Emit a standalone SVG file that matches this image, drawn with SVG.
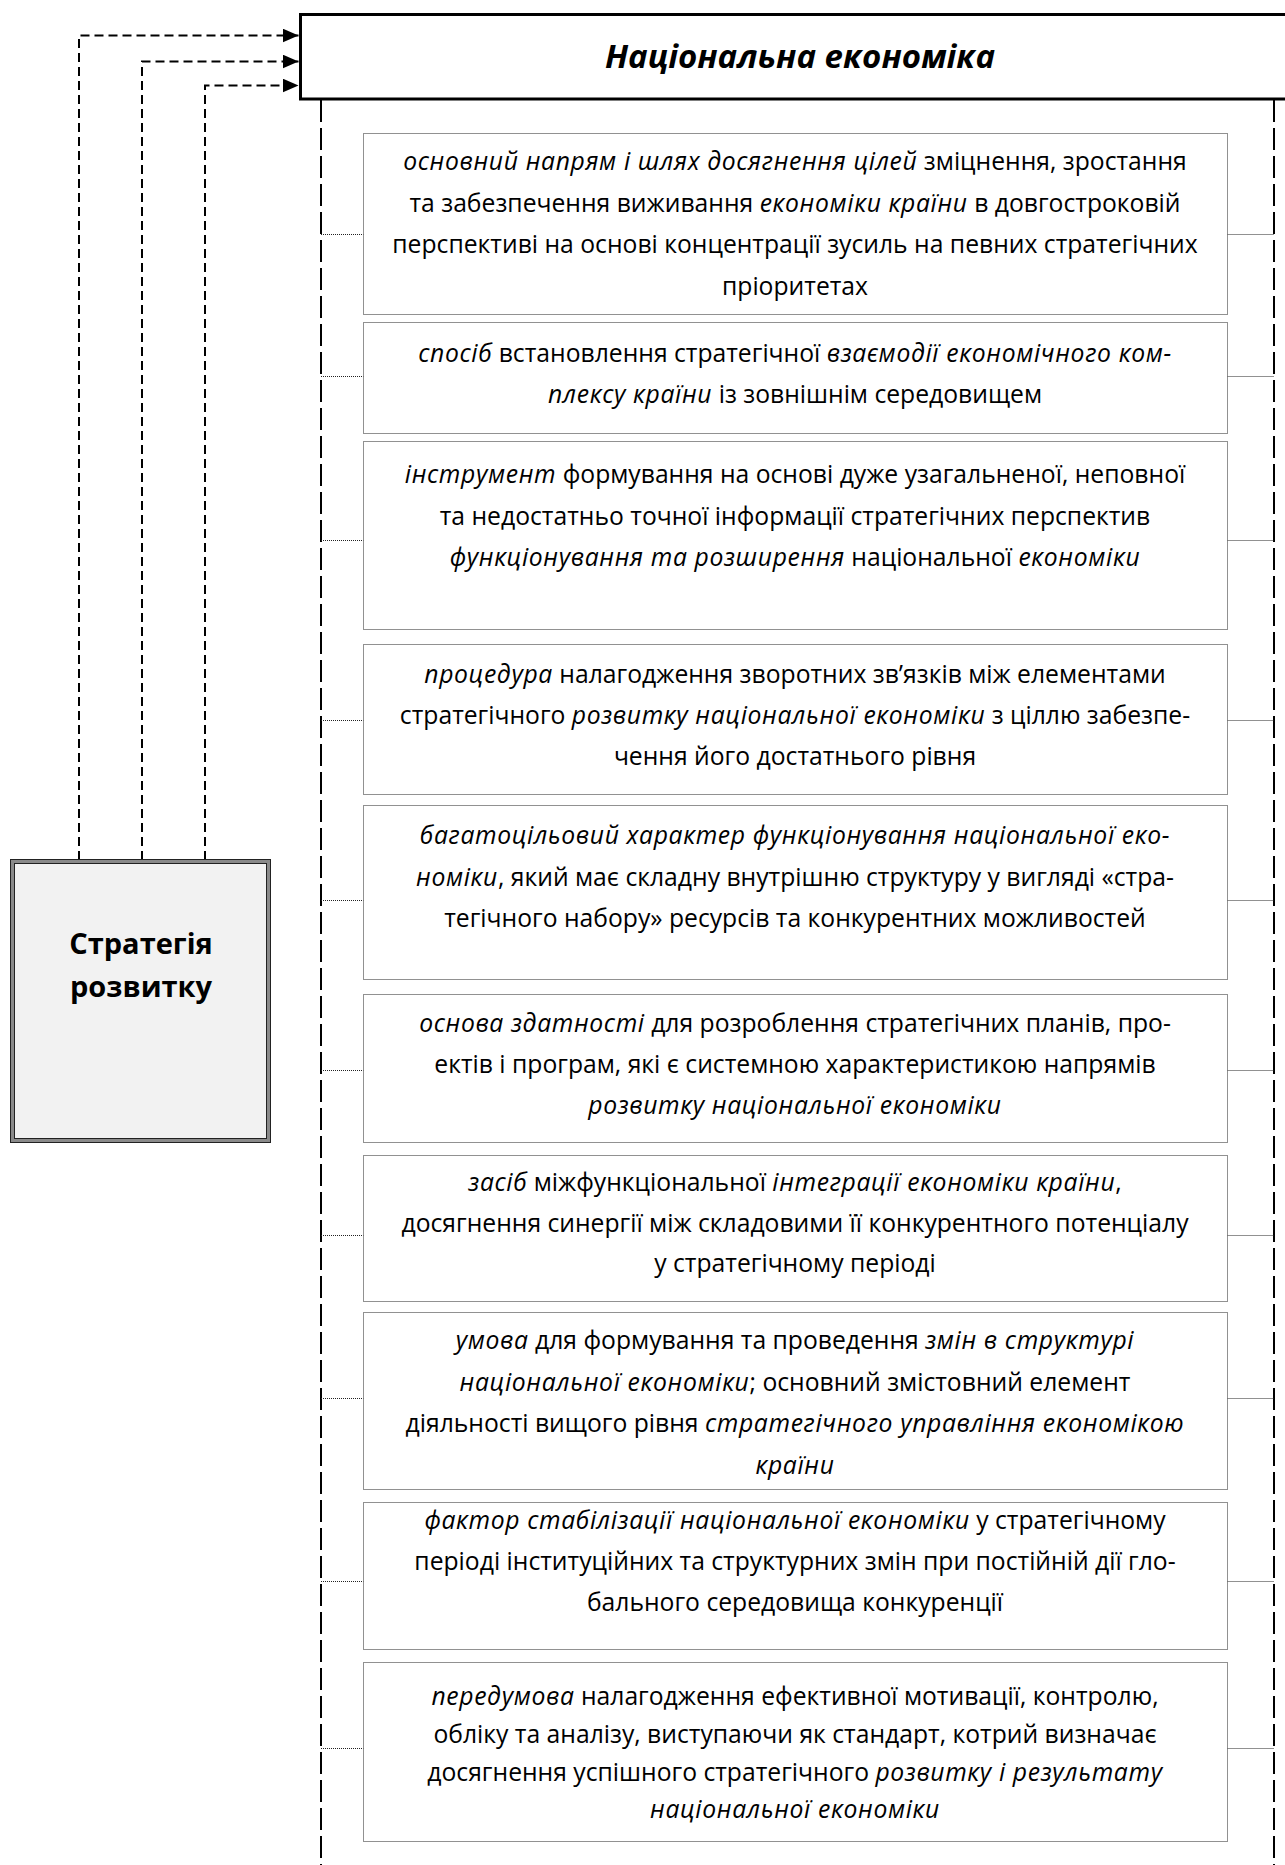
<svg xmlns="http://www.w3.org/2000/svg" width="1285" height="1865" viewBox="0 0 1285 1865">
<style>
.t{font-family:"Open Sans","Noto Sans","DejaVu Sans",sans-serif;font-size:24.7px;fill:#000;text-anchor:middle}
.i{font-style:italic;letter-spacing:0.65px}
.box{fill:#fff;stroke:#222;stroke-width:1;stroke-dasharray:1 1}
.conn{stroke:#222;stroke-width:1;stroke-dasharray:1 1;fill:none}
.spine{stroke:#000;stroke-width:2;stroke-dasharray:22 6;fill:none}
.feed{stroke:#000;stroke-width:2;stroke-dasharray:9 5;fill:none;marker-end:url(#arr)}
.title{font-family:"Open Sans","Noto Sans","DejaVu Sans",sans-serif;font-size:33px;font-weight:bold;font-style:italic;fill:#000;text-anchor:middle}
.strat{font-family:"Open Sans","Noto Sans","DejaVu Sans",sans-serif;font-size:29px;font-weight:bold;fill:#000;text-anchor:middle}
</style>
<defs>
<marker id="arr" viewBox="0 0 16 14" refX="16" refY="7" markerWidth="16" markerHeight="14" markerUnits="userSpaceOnUse" orient="auto">
<path d="M0,0 L16,7 L0,14 z" fill="#000"/>
</marker>
</defs>
<rect width="1285" height="1865" fill="#fff"/>

<g id="connectors">
<path class="feed" d="M79,860 V35.5 H298.5"/>
<path class="feed" d="M142,860 V61.5 H298.5"/>
<path class="feed" d="M205,860 V85.5 H298.5"/>
<path class="spine" d="M321,100 V1865"/>
<path class="spine" d="M1274,100 V1865"/>
<path class="conn" d="M321,234.5 H363.5 M1227.5,234.5 H1274"/>
<path class="conn" d="M321,376.5 H363.5 M1227.5,376.5 H1274"/>
<path class="conn" d="M321,540.5 H363.5 M1227.5,540.5 H1274"/>
<path class="conn" d="M321,720.5 H363.5 M1227.5,720.5 H1274"/>
<path class="conn" d="M321,900.5 H363.5 M1227.5,900.5 H1274"/>
<path class="conn" d="M321,1070.5 H363.5 M1227.5,1070.5 H1274"/>
<path class="conn" d="M321,1235.5 H363.5 M1227.5,1235.5 H1274"/>
<path class="conn" d="M321,1398.5 H363.5 M1227.5,1398.5 H1274"/>
<path class="conn" d="M321,1581.5 H363.5 M1227.5,1581.5 H1274"/>
<path class="conn" d="M321,1748.5 H363.5 M1227.5,1748.5 H1274"/>
</g>

<g id="national-economy">
<rect x="300.5" y="14.5" width="1000" height="84.5" fill="#fff" stroke="#000" stroke-width="3"/>
<text class="title" x="800" y="68">Національна економіка</text>
</g>

<g id="strategy">
<rect x="12" y="861" width="257" height="280" fill="#f2f2f2" stroke="#8a8a8a" stroke-width="4"/>
<rect x="10.5" y="859.5" width="260" height="283" fill="none" stroke="#222" stroke-width="1"/>
<rect x="14.5" y="863.5" width="252" height="275" fill="none" stroke="#222" stroke-width="1"/>
<text class="strat" x="141" y="954">Стратегія</text>
<text class="strat" x="141" y="997">розвитку</text>
</g>

<g id="item1">
<rect class="box" x="363.5" y="133.5" width="864" height="181"/>
<text class="t" x="795" y="170"><tspan class="i">основний напрям і шлях досягнення цілей</tspan> зміцнення, зростання</text>
<text class="t" x="795" y="211.5">та забезпечення виживання <tspan class="i">економіки країни</tspan> в довгостроковій</text>
<text class="t" x="795" y="253">перспективі на основі концентрації зусиль на певних стратегічних</text>
<text class="t" x="795" y="294.5">пріоритетах</text>
</g>

<g id="item2">
<rect class="box" x="363.5" y="322.5" width="864" height="111"/>
<text class="t" x="795" y="362"><tspan class="i">спосіб</tspan> встановлення стратегічної <tspan class="i">взаємодії економічного ком-</tspan></text>
<text class="t" x="795" y="403"><tspan class="i">плексу країни</tspan> із зовнішнім середовищем</text>
</g>

<g id="item3">
<rect class="box" x="363.5" y="441.5" width="864" height="188"/>
<text class="t" x="795" y="483"><tspan class="i">інструмент</tspan> формування на основі дуже узагальненої, неповної</text>
<text class="t" x="795" y="524.5">та недостатньо точної інформації стратегічних перспектив</text>
<text class="t" x="795" y="566"><tspan class="i">функціонування та розширення</tspan> національної <tspan class="i">економіки</tspan></text>
</g>

<g id="item4">
<rect class="box" x="363.5" y="644.5" width="864" height="150"/>
<text class="t" x="795" y="683"><tspan class="i">процедура</tspan> налагодження зворотних зв’язків між елементами</text>
<text class="t" x="795" y="724">стратегічного <tspan class="i">розвитку національної економіки</tspan> з ціллю забезпе-</text>
<text class="t" x="795" y="765">чення його достатнього рівня</text>
</g>

<g id="item5">
<rect class="box" x="363.5" y="805.5" width="864" height="174"/>
<text class="t" x="795" y="844"><tspan class="i">багатоцільовий характер функціонування національної еко-</tspan></text>
<text class="t" x="795" y="885.5"><tspan class="i">номіки</tspan>, який має складну внутрішню структуру у вигляді «стра-</text>
<text class="t" x="795" y="927">тегічного набору» ресурсів та конкурентних можливостей</text>
</g>

<g id="item6">
<rect class="box" x="363.5" y="994.5" width="864" height="148"/>
<text class="t" x="795" y="1032"><tspan class="i">основа здатності</tspan> для розроблення стратегічних планів, про-</text>
<text class="t" x="795" y="1073">ектів і програм, які є системною характеристикою напрямів</text>
<text class="t" x="795" y="1114"><tspan class="i">розвитку національної економіки</tspan></text>
</g>

<g id="item7">
<rect class="box" x="363.5" y="1155.5" width="864" height="146"/>
<text class="t" x="795" y="1191"><tspan class="i">засіб</tspan> міжфункціональної <tspan class="i">інтеграції економіки країни</tspan>,</text>
<text class="t" x="795" y="1231.5">досягнення синергії між складовими її конкурентного потенціалу</text>
<text class="t" x="795" y="1272">у стратегічному періоді</text>
</g>

<g id="item8">
<rect class="box" x="363.5" y="1312.5" width="864" height="177"/>
<text class="t" x="795" y="1349"><tspan class="i">умова</tspan> для формування та проведення <tspan class="i">змін в структурі</tspan></text>
<text class="t" x="795" y="1390.5"><tspan class="i">національної економіки</tspan>; основний змістовний елемент</text>
<text class="t" x="795" y="1432">діяльності вищого рівня <tspan class="i">стратегічного управління економікою</tspan></text>
<text class="t" x="795" y="1473.5"><tspan class="i">країни</tspan></text>
</g>

<g id="item9">
<rect class="box" x="363.5" y="1502.5" width="864" height="147"/>
<text class="t" x="795" y="1529"><tspan class="i">фактор стабілізації національної економіки</tspan> у стратегічному</text>
<text class="t" x="795" y="1570">періоді інституційних та структурних змін при постійній дії гло-</text>
<text class="t" x="795" y="1611">бального середовища конкуренції</text>
</g>

<g id="item10">
<rect class="box" x="363.5" y="1662.5" width="864" height="179"/>
<text class="t" x="795" y="1705"><tspan class="i">передумова</tspan> налагодження ефективної мотивації, контролю,</text>
<text class="t" x="795" y="1743">обліку та аналізу, виступаючи як стандарт, котрий визначає</text>
<text class="t" x="795" y="1780.5">досягнення успішного стратегічного <tspan class="i">розвитку і результату</tspan></text>
<text class="t" x="795" y="1817.5"><tspan class="i">національної економіки</tspan></text>
</g>
</svg>
